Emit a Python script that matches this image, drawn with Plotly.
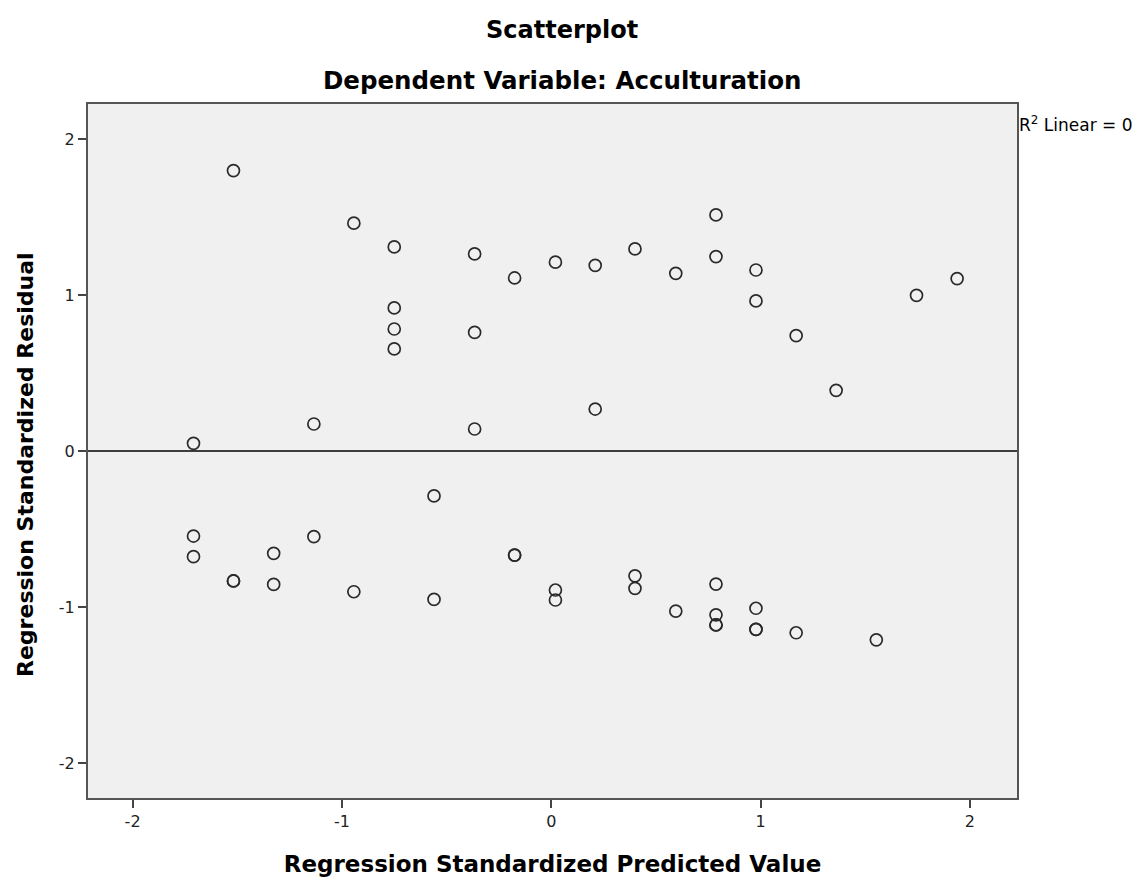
import plotly.graph_objects as go

# Regression standardized predicted value (x) and residual (y)
pred = [
    -1.518, -0.943, -0.750, -0.750, -0.750, -0.750, -0.366, -0.366, -0.175,
    0.020, 0.210, 0.400, 0.595, 0.787, 0.787, 0.978, 0.978, 1.170, 1.361,
    1.745, 1.939,
    -1.709, -1.134, -0.366, 0.210,
    -0.560,
    -1.709, -1.709, -1.518, -1.518, -1.326, -1.326, -1.134, -0.943, -0.560,
    -0.175, -0.175, 0.020, 0.020, 0.400, 0.400, 0.595, 0.787, 0.787, 0.787,
    0.787, 0.978, 0.978, 0.978, 1.170, 1.553,
]
resid = [
    1.797, 1.460, 1.308, 0.917, 0.782, 0.654, 1.263, 0.760, 1.109,
    1.210, 1.190, 1.295, 1.139, 1.513, 1.246, 1.160, 0.962, 0.739, 0.389,
    0.998, 1.105,
    0.049, 0.173, 0.141, 0.269,
    -0.288,
    -0.545, -0.677, -0.833, -0.833, -0.656, -0.855, -0.549, -0.902, -0.951,
    -0.667, -0.667, -0.891, -0.955, -0.800, -0.880, -1.026, -0.853, -1.050,
    -1.115, -1.115, -1.008, -1.143, -1.143, -1.165, -1.210,
]
fit_value = 0.0  # R2 linear fit line (mean of residuals)

x_ticks = [-2, -1, 0, 1, 2]
y_ticks = [-2, -1, 0, 1, 2]

title1 = "Scatterplot"
title2 = "Dependent Variable: Acculturation"
x_title = "Regression Standardized Predicted Value"
y_title = "Regression Standardized Residual"
r2_label = "R<sup>2</sup> Linear = 0"

font_family = "DejaVu Sans, Liberation Sans, Arial, sans-serif"

fig = go.Figure()
fig.add_trace(go.Scatter(
    x=pred, y=resid, mode="markers",
    marker=dict(symbol="circle-open", size=12, color="#2a2a2a",
                line=dict(width=1.7, color="#2a2a2a")),
    hoverinfo="x+y", showlegend=False,
))
fig.add_hline(y=fit_value, line=dict(color="black", width=1.6))

fig.update_layout(
    width=1148, height=886,
    margin=dict(l=88, r=131, t=104, b=88),
    paper_bgcolor="white", plot_bgcolor="#F0F0F0",
    font=dict(family=font_family, color="#222222"),
    showlegend=False,
    annotations=[
        dict(text="<b>" + title1 + "</b>", xref="paper", yref="paper",
             x=0.5105, y=1.0, yshift=74, showarrow=False,
             font=dict(size=24, color="black", family=font_family),
             xanchor="center", yanchor="middle"),
        dict(text="<b>" + title2 + "</b>", xref="paper", yref="paper",
             x=0.5105, y=1.0, yshift=24, showarrow=False,
             font=dict(size=24.5, color="black", family=font_family),
             xanchor="center", yanchor="middle"),
        dict(text=r2_label, xref="paper", yref="paper",
             x=1.0, y=1.0, xshift=0, yshift=-20, showarrow=False,
             font=dict(size=17, color="black", family=font_family),
             xanchor="left", yanchor="middle"),
        dict(text="<b>" + y_title + "</b>", xref="paper", yref="paper",
             x=0.0, y=0.5, xshift=-63, yshift=-14, showarrow=False,
             textangle=-90,
             font=dict(size=22, color="black", family=font_family),
             xanchor="center", yanchor="middle"),
    ],
)
fig.update_xaxes(
    range=[-2.213, 2.225], tickvals=x_ticks, ticktext=[str(v) for v in x_ticks],
    showgrid=False, zeroline=False,
    showline=True, mirror=True, linecolor="#555555", linewidth=2,
    ticks="outside", ticklen=8, tickwidth=2, tickcolor="#444444",
    tickfont=dict(size=16, color="#222222"),
    title=dict(text="<b>" + x_title + "</b>", font=dict(size=23, color="black"),
               standoff=26),
)
fig.update_yaxes(
    range=[-2.224, 2.224], tickvals=y_ticks, ticktext=[str(v) for v in y_ticks],
    showgrid=False, zeroline=False,
    showline=True, mirror=True, linecolor="#555555", linewidth=2,
    ticks="outside", ticklen=8, tickwidth=2, tickcolor="#444444",
    tickfont=dict(size=16, color="#222222"),
)

fig.write_html("out.html")
